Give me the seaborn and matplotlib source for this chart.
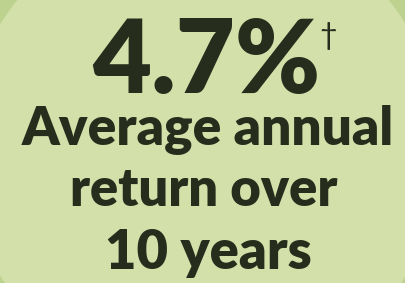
import matplotlib
matplotlib.use("Agg")
import matplotlib.pyplot as plt
import seaborn as sns
from matplotlib.patches import Circle

# chart content
headline_value = 4.7
headline_suffix = "%"
footnote_mark = "\u2020"
caption_lines = ["Average annual", "return over", "10 years"]

bg_outer = "#bcd28e"
bg_inner = "#d3e0a9"
ink = "#262d1c"

sns.set_theme(style="white")
plt.rcParams['font.family'] = ['Lato', 'DejaVu Sans']

fig = plt.figure(figsize=(4.05, 2.83), dpi=100)
fig.patch.set_facecolor(bg_outer)
ax = fig.add_axes([0, 0, 1, 1])
ax.set_xlim(0, 405)
ax.set_ylim(283, 0)
ax.set_axis_off()
ax.add_patch(Circle((203, 150), 238, color=bg_inner, zorder=0))

renderer = fig.canvas.get_renderer()


def fit_text(x, y, s, width, size):
    # shrink/grow the font so the text spans roughly the given pixel width
    t = ax.text(x, y, s, ha="center", va="baseline", fontsize=size,
                fontweight="heavy", color=ink)
    w = t.get_window_extent(renderer).width
    t.set_fontsize(size * width / w)
    return t


head = f"{headline_value:.1f}{headline_suffix}"
fit_text(206, 93, head, 228, 70)
ax.text(328, 45, footnote_mark, ha="center", va="baseline", fontsize=22,
        color=ink)

ys = [145, 206, 269]
xs = [208, 204, 208]
widths = [373, 268, 207]
for line, x, y, w in zip(caption_lines, xs, ys, widths):
    fit_text(x, y, line, w, 36)

fig.savefig("out.png", dpi=100, facecolor=fig.get_facecolor())
